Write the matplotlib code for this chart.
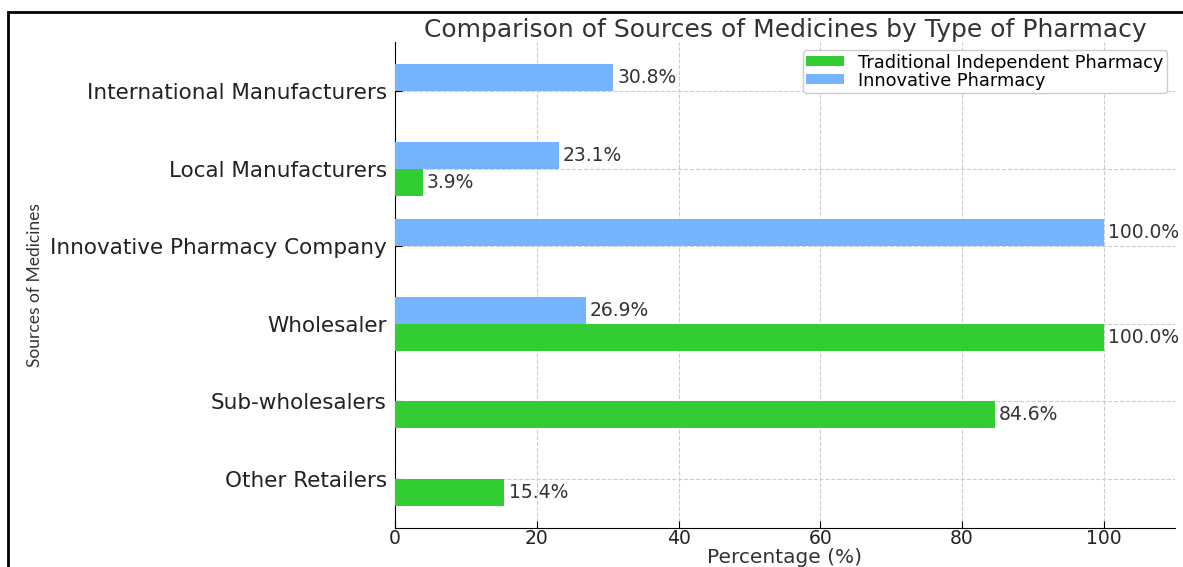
import matplotlib
matplotlib.use("Agg")
import matplotlib.pyplot as plt
from matplotlib.patches import Rectangle
import numpy as np

# Sources of medicines, listed top to bottom
sources = [
    "International Manufacturers",
    "Local Manufacturers",
    "Innovative Pharmacy Company",
    "Wholesaler",
    "Sub-wholesalers",
    "Other Retailers",
]
traditional = [0.0, 3.9, 0.0, 100.0, 84.6, 15.4]
innovative = [30.8, 23.1, 100.0, 26.9, 0.0, 0.0]

GREEN = "#32cd32"
BLUE = "#77b4fe"
TEXT = "#333333"

fig = plt.figure(figsize=(11.83, 5.67), dpi=100)
ax = fig.add_axes([0.334, 0.069, 0.659, 0.857])

y = np.arange(len(sources))[::-1]
h = 0.35
b_trad = ax.barh(y - h / 2, traditional, height=h, color=GREEN,
                 label="Traditional Independent Pharmacy", zorder=3)
b_innov = ax.barh(y + h / 2, innovative, height=h, color=BLUE,
                  label="Innovative Pharmacy", zorder=3)

for bars, vals in ((b_trad, traditional), (b_innov, innovative)):
    for bar, v in zip(bars, vals):
        if v <= 0:
            continue
        ax.text(v + 0.6, bar.get_y() + bar.get_height() / 2, f"{v:.1f}%",
                va="center", ha="left", fontsize=13.5, color=TEXT)

ax.set_xlim(0, 110)
ax.set_yticks(y)
ax.set_yticklabels(sources, fontsize=15.5, color="#222222")
ax.set_xticks([0, 20, 40, 60, 80, 100])
ax.tick_params(axis="x", labelsize=13.5, labelcolor="#222222",
               direction="in", length=5, pad=1)
ax.tick_params(axis="y", direction="in", length=5, pad=6)
ax.grid(True, linestyle="--", color="#cccccc", linewidth=0.8, zorder=0)
ax.set_axisbelow(True)
for side in ("top", "right"):
    ax.spines[side].set_visible(False)

ax.set_xlabel("Percentage (%)", fontsize=14.5, color=TEXT)
ax.xaxis.set_label_coords(0.5, -0.042)
ax.set_ylabel("Sources of Medicines", fontsize=12.5, color=TEXT,
              family="Lato")
ax.yaxis.set_label_coords(-0.452, 0.5)
ax.set_title("Comparison of Sources of Medicines by Type of Pharmacy",
             fontsize=18, color=TEXT, pad=3)

ax.legend(loc="upper right", fontsize=12.8, borderaxespad=0.45,
          borderpad=0.2, handlelength=2.1, handleheight=0.5,
          labelspacing=0.0, framealpha=1, edgecolor="#cccccc")

# frame line along the top and left edge of the image
fig.patches.append(Rectangle((8 / 1183, -0.1), 1.2, 1.1 - 12 / 567,
                             transform=fig.transFigure, fill=False,
                             edgecolor="black", linewidth=2))

fig.savefig("out.png", dpi=100)
